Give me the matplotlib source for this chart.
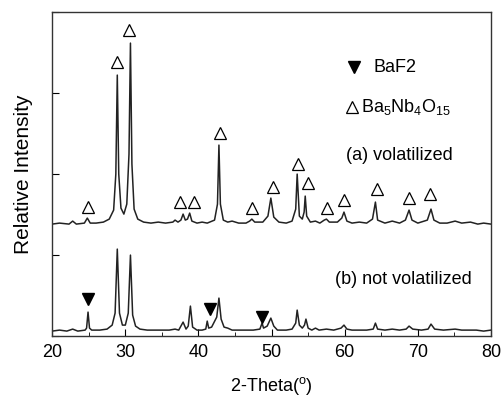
import matplotlib
matplotlib.use("Agg")
import matplotlib.pyplot as plt
from matplotlib.ticker import MultipleLocator

plt.rcParams['font.family'] = ['Liberation Sans', 'DejaVu Sans']
plt.rcParams['mathtext.fontset'] = 'custom'
plt.rcParams['mathtext.rm'] = 'Liberation Sans'
plt.rcParams['mathtext.it'] = 'Liberation Sans'

# (a) volatilized : 2-theta / intensity above its own baseline
tt_a = [20.0, 21.0, 22.3, 22.8, 23.3, 24.4, 24.8, 25.2, 26.0, 27.0, 27.8, 28.4, 28.7, 28.9, 29.1,
        29.4, 29.8, 30.2, 30.5, 30.7, 30.9, 31.2, 31.7, 32.5, 33.5, 34.5, 35.5, 36.5, 36.8, 37.2,
        37.6, 37.9, 38.2, 38.5, 38.8, 39.1, 39.8, 40.5, 41.2, 42.2, 42.6, 42.8, 43.0, 43.4, 44.0,
        44.6, 45.5, 46.5, 47.0, 47.3, 47.7, 48.8, 49.5, 49.9, 50.3, 51.0, 52.0, 52.8, 53.3, 53.5,
        53.8, 54.2, 54.45, 54.6, 54.8, 55.3, 56.0, 56.6, 57.2, 57.5, 57.9, 59.0, 59.6, 59.9, 60.3,
        61.0, 62.0, 63.0, 63.8, 64.2, 64.5, 65.5, 66.5, 67.5, 68.3, 68.8, 69.2, 70.0, 71.3, 71.8,
        72.2, 73.0, 74.0, 75.1, 76.0, 77.2, 78.2, 79.0, 80.0]
int_a = [0, 1, 0, 3, 0, 1, 6, 1, 1, 2, 5, 14, 50, 149, 50,
         16, 10, 20, 70, 181, 60, 15, 5, 2, 1, 2, 1, 2, 4, 2,
         4, 10, 4, 5, 11, 3, 1, 2, 1, 4, 20, 79, 20, 4, 2,
         3, 1, 1, 3, 5, 2, 2, 8, 26, 7, 2, 1, 3, 15, 50,
         8, 5, 12, 28, 8, 2, 3, 1, 4, 5, 2, 2, 6, 12, 3,
         1, 2, 1, 5, 22, 4, 1, 3, 1, 4, 14, 4, 1, 4, 15,
         4, 1, 1, 3, 1, 2, 0, 1, 0]

# (b) not volatilized
tt_b = [20.0, 21.0, 22.0, 22.8, 23.5, 24.5, 24.7, 24.9, 25.1, 25.4, 26.5, 27.5, 28.2, 28.6, 28.9,
        29.2, 29.6, 30.0, 30.4, 30.7, 31.0, 31.4, 32.0, 33.0, 34.0, 35.0, 36.0, 36.8, 37.3, 37.9,
        38.3, 38.6, 38.9, 39.2, 39.8, 40.5, 41.0, 41.2, 41.4, 41.8, 42.5, 42.8, 43.1, 43.5, 44.0,
        44.6, 45.5, 46.5, 47.5, 48.4, 48.7, 48.9, 49.4, 49.9, 50.3, 50.8, 52.0, 52.8, 53.3, 53.5,
        53.8, 54.2, 54.5, 54.7, 55.0, 55.5, 56.0, 56.5, 57.5, 58.5, 59.5, 59.9, 60.3, 61.0, 62.0,
        63.0, 63.9, 64.2, 64.5, 65.5, 66.5, 67.5, 68.4, 68.8, 69.3, 70.5, 71.4, 71.8, 72.3, 73.5,
        75.1, 76.0, 77.0, 78.0, 79.0, 80.0]
int_b = [0, 1, 0, 2, 0, 1, 3, 19, 3, 1, 1, 2, 6, 18, 82,
         18, 6, 6, 18, 76, 16, 5, 2, 1, 1, 1, 1, 2, 1, 9,
         2, 5, 25, 4, 1, 1, 2, 10, 3, 4, 14, 33, 12, 4, 3,
         1, 1, 1, 1, 2, 8, 3, 5, 13, 5, 1, 1, 2, 8, 21,
         6, 3, 6, 12, 3, 1, 3, 1, 2, 1, 3, 6, 2, 1, 1,
         1, 2, 8, 2, 1, 2, 1, 2, 5, 2, 1, 2, 7, 2, 1,
         2, 1, 1, 1, 0, 1]

# phase markers
ba5_x = [24.9, 28.9, 30.5, 37.5, 39.4, 43.0, 47.3, 50.2, 53.6, 55.0, 57.6, 59.9, 64.4, 68.8, 71.7]
ba5_y = [129, 274, 306, 134, 134, 203, 128, 149, 172, 153, 128, 136, 147, 138, 142]
baf2_x = [24.9, 41.6, 48.7]
baf2_y = [37, 27, 19]

off_a = 112
off_b = 5

fig = plt.figure(figsize=(5.02, 4.03), dpi=100)
ax = fig.add_axes([0.104, 0.166, 0.874, 0.804])

ax.plot(tt_a, [v + off_a for v in int_a], color='#222222', lw=1.1)
ax.plot(tt_b, [v + off_b for v in int_b], color='#222222', lw=1.1)

ax.plot(ba5_x, ba5_y, ls='none', marker='^', ms=9, mfc='white', mec='black', mew=0.9)
ax.plot(baf2_x, baf2_y, ls='none', marker='v', ms=9, mfc='black', mec='black')

# legend-like annotations
ax.plot([61.3], [269], marker='v', ms=9, color='black')
ax.text(63.9, 269, 'BaF2', fontsize=13, va='center')
ax.plot([61.0], [229], marker='^', ms=9, mfc='white', mec='black', mew=0.9)
ax.text(62.2, 229, r'Ba$_5$Nb$_4$O$_{15}$', fontsize=13, va='center')
ax.text(60.2, 181, '(a) volatilized', fontsize=13, va='center')
ax.text(58.7, 57, '(b) not volatilized', fontsize=13, va='center')

ax.set_xlim(20, 80)
ax.set_ylim(0, 324)
ax.xaxis.set_major_locator(MultipleLocator(10))
ax.xaxis.set_minor_locator(MultipleLocator(5))
ax.yaxis.set_major_locator(MultipleLocator(81))
ax.set_yticklabels([])
ax.tick_params(axis='both', which='major', direction='in', length=5, labelsize=13)
ax.tick_params(axis='x', which='minor', direction='in', length=3)
ax.tick_params(axis='x', pad=6)
for s in ax.spines.values():
    s.set_linewidth(1.0)
    s.set_color('#333333')

ax.set_xlabel('2-Theta($^\\mathrm{o}$)', fontsize=13, labelpad=10)
ax.set_ylabel('Relative Intensity', fontsize=15, labelpad=10)

fig.savefig('out.png', dpi=100)
